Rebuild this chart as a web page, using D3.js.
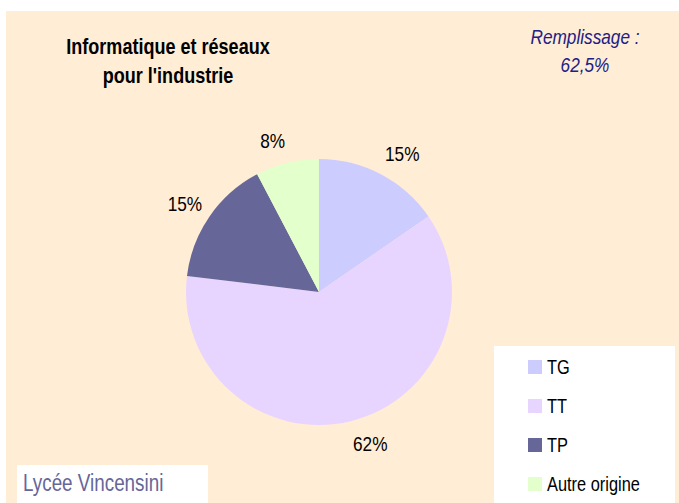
<!DOCTYPE html>
<html>
<head>
<meta charset="utf-8">
<script src="https://cdn.jsdelivr.net/npm/d3@7"></script>
<style>
  html, body { margin: 0; padding: 0; background: #fff; }
  svg { display: block; font-family: "Liberation Sans", Arial, sans-serif; }
</style>
</head>
<body>
<div class="svg-container"></div>
<script>
// data
const categories = ["TG", "TT", "TP", "Autre origine"];
const counts = [2, 8, 2, 1];
const titleLines = ["Informatique et réseaux", "pour l'industrie"];
const fillLines = ["Remplissage :", "62,5%"];
const schoolName = "Lycée Vincensini";

const colours = ["#ccccff", "#e8d5ff", "#666699", "#e2ffcc"];

const width = 679, height = 503;
const center = { x: 319, y: 292 };
const radius = 133;
const narrow = 0.82; // no Arial Narrow here, so squeeze the glyphs

const place = (x, y) => "translate(" + x + "," + y + ") scale(" + narrow + ",1)";

const svg = d3.select(".svg-container")
  .append("svg")
  .attr("width", width)
  .attr("height", height);

// background
svg.append("rect")
  .attr("x", 6).attr("y", 11)
  .attr("width", width - 6).attr("height", height - 11)
  .style("fill", "#ffedd5");

// TITLE
svg.append("text")
  .attr("transform", place(168, 54))
  .style("text-anchor", "middle")
  .style("font-weight", "bold")
  .style("font-size", "22px")
  .style("fill", "#000")
  .selectAll("tspan")
  .data(titleLines)
  .enter()
  .append("tspan")
  .attr("x", 0)
  .attr("dy", (d, i) => i === 0 ? 0 : 29)
  .text(d => d);

// remplissage
svg.append("text")
  .attr("transform", place(585, 44))
  .style("text-anchor", "middle")
  .style("font-style", "italic")
  .style("font-size", "21px")
  .style("fill", "#202086")
  .selectAll("tspan")
  .data(fillLines)
  .enter()
  .append("tspan")
  .attr("x", 0)
  .attr("dy", (d, i) => i === 0 ? 0 : 28)
  .text(d => d);

// PIE
const pie = d3.pie().sort(null).value(d => d.value);
const arcs = pie(categories.map((c, i) => ({ name: c, value: counts[i] })));
const total = d3.sum(counts);

const arc = d3.arc().innerRadius(0).outerRadius(radius);

const g = svg.append("g")
  .attr("transform", "translate(" + center.x + "," + center.y + ")");

g.selectAll("path")
  .data(arcs)
  .enter()
  .append("path")
  .attr("d", arc)
  .style("fill", (d, i) => colours[i]);

// labels sit just outside the rim, pushed sideways by half their width
const labelR = 142;
g.selectAll(".pct")
  .data(arcs)
  .enter()
  .append("text")
  .attr("class", "pct")
  .attr("dy", "0.35em")
  .style("text-anchor", "middle")
  .style("font-size", "21px")
  .style("fill", "#000")
  .text(d => Math.round(d.data.value / total * 100) + "%")
  .attr("transform", function (d) {
    const a = (d.startAngle + d.endAngle) / 2;
    const sx = Math.sin(a), sy = -Math.cos(a);
    const w = this.getBBox().width * narrow;
    const x = sx * labelR + Math.sign(sx) * w / 2;
    const y = sy * (labelR + 14);
    return place(x, y);
  });

// LEGEND
svg.append("rect")
  .attr("x", 494).attr("y", 346)
  .attr("width", 181).attr("height", height - 346)
  .style("fill", "#fff");

const legendY = d3.scalePoint()
  .domain(categories)
  .range([367, 484]);

const legend = svg.append("g").attr("class", "legend");

legend.selectAll("rect")
  .data(categories)
  .enter()
  .append("rect")
  .attr("x", 528)
  .attr("y", d => legendY(d) - 7)
  .attr("width", 14)
  .attr("height", 14)
  .style("fill", (d, i) => colours[i]);

legend.selectAll("text")
  .data(categories)
  .enter()
  .append("text")
  .attr("transform", d => place(547, legendY(d)))
  .attr("dy", "0.36em")
  .style("font-size", "20px")
  .style("fill", "#000")
  .text(d => d);

// school
svg.append("rect")
  .attr("x", 17).attr("y", 465)
  .attr("width", 191).attr("height", height - 465)
  .style("fill", "#fff");

svg.append("text")
  .attr("transform", place(23, 491))
  .style("font-size", "23px")
  .style("fill", "#666699")
  .text(schoolName);
</script>
</body>
</html>
